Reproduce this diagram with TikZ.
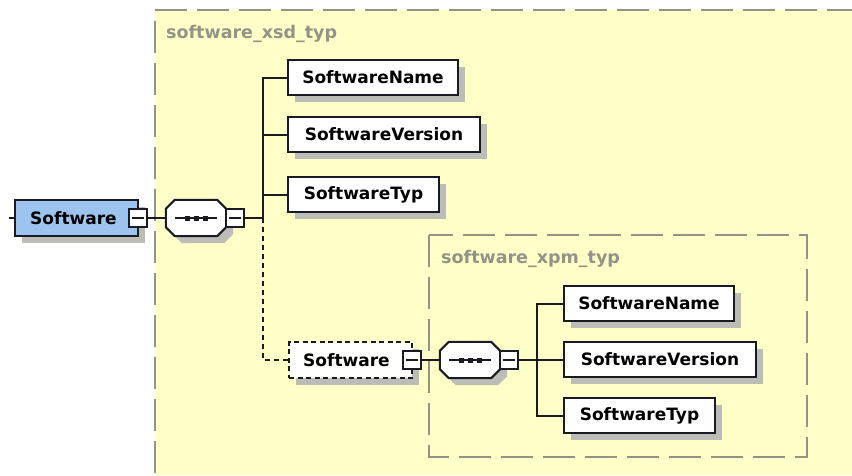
\documentclass[tikz,border=0pt]{standalone}
\usepackage{fontspec}
\setmainfont{DejaVu Sans}
\usetikzlibrary{calc,shadows}
\definecolor{typefill}{HTML}{FFFFC8}
\definecolor{typeline}{HTML}{939387}
\definecolor{shadowgray}{HTML}{BDBDB8}
\definecolor{rootblue}{HTML}{9CC4EE}
\definecolor{inkdark}{HTML}{1A1A24}
\tikzset{
  x=1pt,y=-1pt,
  conn/.style={draw=inkdark,line width=2pt},
  dashconn/.style={draw=inkdark,line width=2pt,dash pattern=on 5pt off 4pt},
  typeborder/.style={draw=typeline,line width=1.5pt,dash pattern=on 32pt off 10pt},
  typelabel/.style={text=typeline,font=\bfseries\fontsize{17.5}{20}\selectfont,anchor=west,inner sep=0pt},
  dropshade/.style={general shadow={fill=shadowgray,shadow xshift=7pt,shadow yshift=-7pt}},
  elembox/.style={draw=inkdark,line width=2pt,fill=white,dropshade,minimum height=35pt,inner sep=0pt,
    text=black,font=\bfseries\fontsize{17}{20}\selectfont},
  rootbox/.style={elembox,fill=rootblue,minimum height=36pt},
  optbox/.style={elembox,fill=white!97!typefill,minimum height=36pt,dash pattern=on 5pt off 3.5pt},
  expander/.style={draw=inkdark,line width=2pt,fill=white,minimum width=18pt,minimum height=18pt,inner sep=0pt},
  seqbox/.style={minimum width=60pt,minimum height=36pt,inner sep=0pt},
  seqoutline/.style={draw=inkdark,line width=2pt,fill=white},
  seqdot/.style={fill=inkdark},
}
\newcommand{\octpath}[3]{% node, x offset, y offset
  ($(#1.north west)+(#2+9,#3)$) -- ($(#1.north east)+(#2-9,#3)$) -- ($(#1.north east)+(#2,#3+9)$) --
  ($(#1.south east)+(#2,#3-9)$) -- ($(#1.south east)+(#2-9,#3)$) -- ($(#1.south west)+(#2+9,#3)$) --
  ($(#1.south west)+(#2,#3-9)$) -- ($(#1.north west)+(#2,#3+9)$) -- cycle}
\newcommand{\seqshape}[1]{%
  \fill[shadowgray] \octpath{#1}{7}{7};
  \draw[seqoutline] \octpath{#1}{0}{0};
}
\newcommand{\seqmark}[1]{%
  \draw[conn] ([xshift=-21pt]#1.center) -- ([xshift=21pt]#1.center);
  \fill[seqdot] ([xshift=-11.5pt,yshift=-2.5pt]#1.center) rectangle ([xshift=-6.5pt,yshift=2.5pt]#1.center);
  \fill[seqdot] ([xshift=-2.5pt,yshift=-2.5pt]#1.center) rectangle ([xshift=2.5pt,yshift=2.5pt]#1.center);
  \fill[seqdot] ([xshift=6.5pt,yshift=-2.5pt]#1.center) rectangle ([xshift=11.5pt,yshift=2.5pt]#1.center);
}
\newcommand{\minusmark}[1]{%
  \draw[conn] ([xshift=-6pt]#1.center) -- ([xshift=6pt]#1.center);
}
\begin{document}
\begin{tikzpicture}
\useasboundingbox (0,0) rectangle (852,475);
\fill[white] (0,0) rectangle (852,475);
% outer type region
\fill[typefill] (155,10) rectangle (852,475);
\draw[typeborder] (155,10) -- (852,10);
\draw[typeborder] (155,21) -- (155,475);
\node[typelabel] (outerlabel) at (166,34) {software\_xsd\_typ};
% inner type region
\draw[typeborder] (429,235) -- (429,457) -- (807,457) -- (807,235) -- cycle;
\node[typelabel] (innerlabel) at (441,259) {software\_xpm\_typ};
% junctions
\coordinate (stub) at (9,218);
\coordinate (bar) at (263,218);
\coordinate (ibar) at (537,360);
% outer children
\node[elembox,minimum width=170pt] (name) at (373,77.5) {SoftwareName};
\node[elembox,minimum width=192pt] (version) at (384,134.5) {SoftwareVersion};
\node[elembox,minimum width=151pt] (typ) at (363.5,194.5) {SoftwareTyp};
% root
\node[rootbox,minimum width=123pt] (root) at (76.5,218) {\hspace*{-6pt}Software};
\node[seqbox] (seq) at (196,218) {};
\seqshape{seq}
% optional element
\node[optbox,minimum width=123pt] (opt) at (350.5,360) {\hspace*{-8pt}Software};
\node[seqbox] (iseq) at (470,360) {};
\seqshape{iseq}
% inner children
\node[elembox,minimum width=170pt] (iname) at (649,303.5) {SoftwareName};
\node[elembox,minimum width=192pt] (iversion) at (660,359.5) {SoftwareVersion};
\node[elembox,minimum width=151pt] (ityp) at (639.5,415.5) {SoftwareTyp};
% expanders
\node[expander] (rootexp) at (138,218) {};
\node[expander] (seqexp) at (235,218) {};
\node[expander] (optexp) at (412,360) {};
\node[expander] (iseqexp) at (509,360) {};
% connectors
\draw[conn] (stub) -- (root.west);
\draw[conn] (rootexp.east) -- (seq.west |- rootexp.east);
\draw[conn] (seqexp.east) -- (bar);
\draw[conn] (bar) |- (name.west);
\draw[conn] (bar) |- (version.west);
\draw[conn] (bar) |- (typ.west);
\draw[dashconn] (bar) |- (opt.west);
\draw[conn] (optexp.east) -- (iseq.west);
\draw[conn] (iseqexp.east) -- (ibar);
\draw[conn] (ibar) |- (iname.west);
\draw[conn] (ibar) -- (iversion.west |- ibar);
\draw[conn] (ibar) |- (ityp.west);
% marks
\minusmark{rootexp}\minusmark{seqexp}\minusmark{optexp}\minusmark{iseqexp}
\seqmark{seq}\seqmark{iseq}
\end{tikzpicture}
\end{document}
